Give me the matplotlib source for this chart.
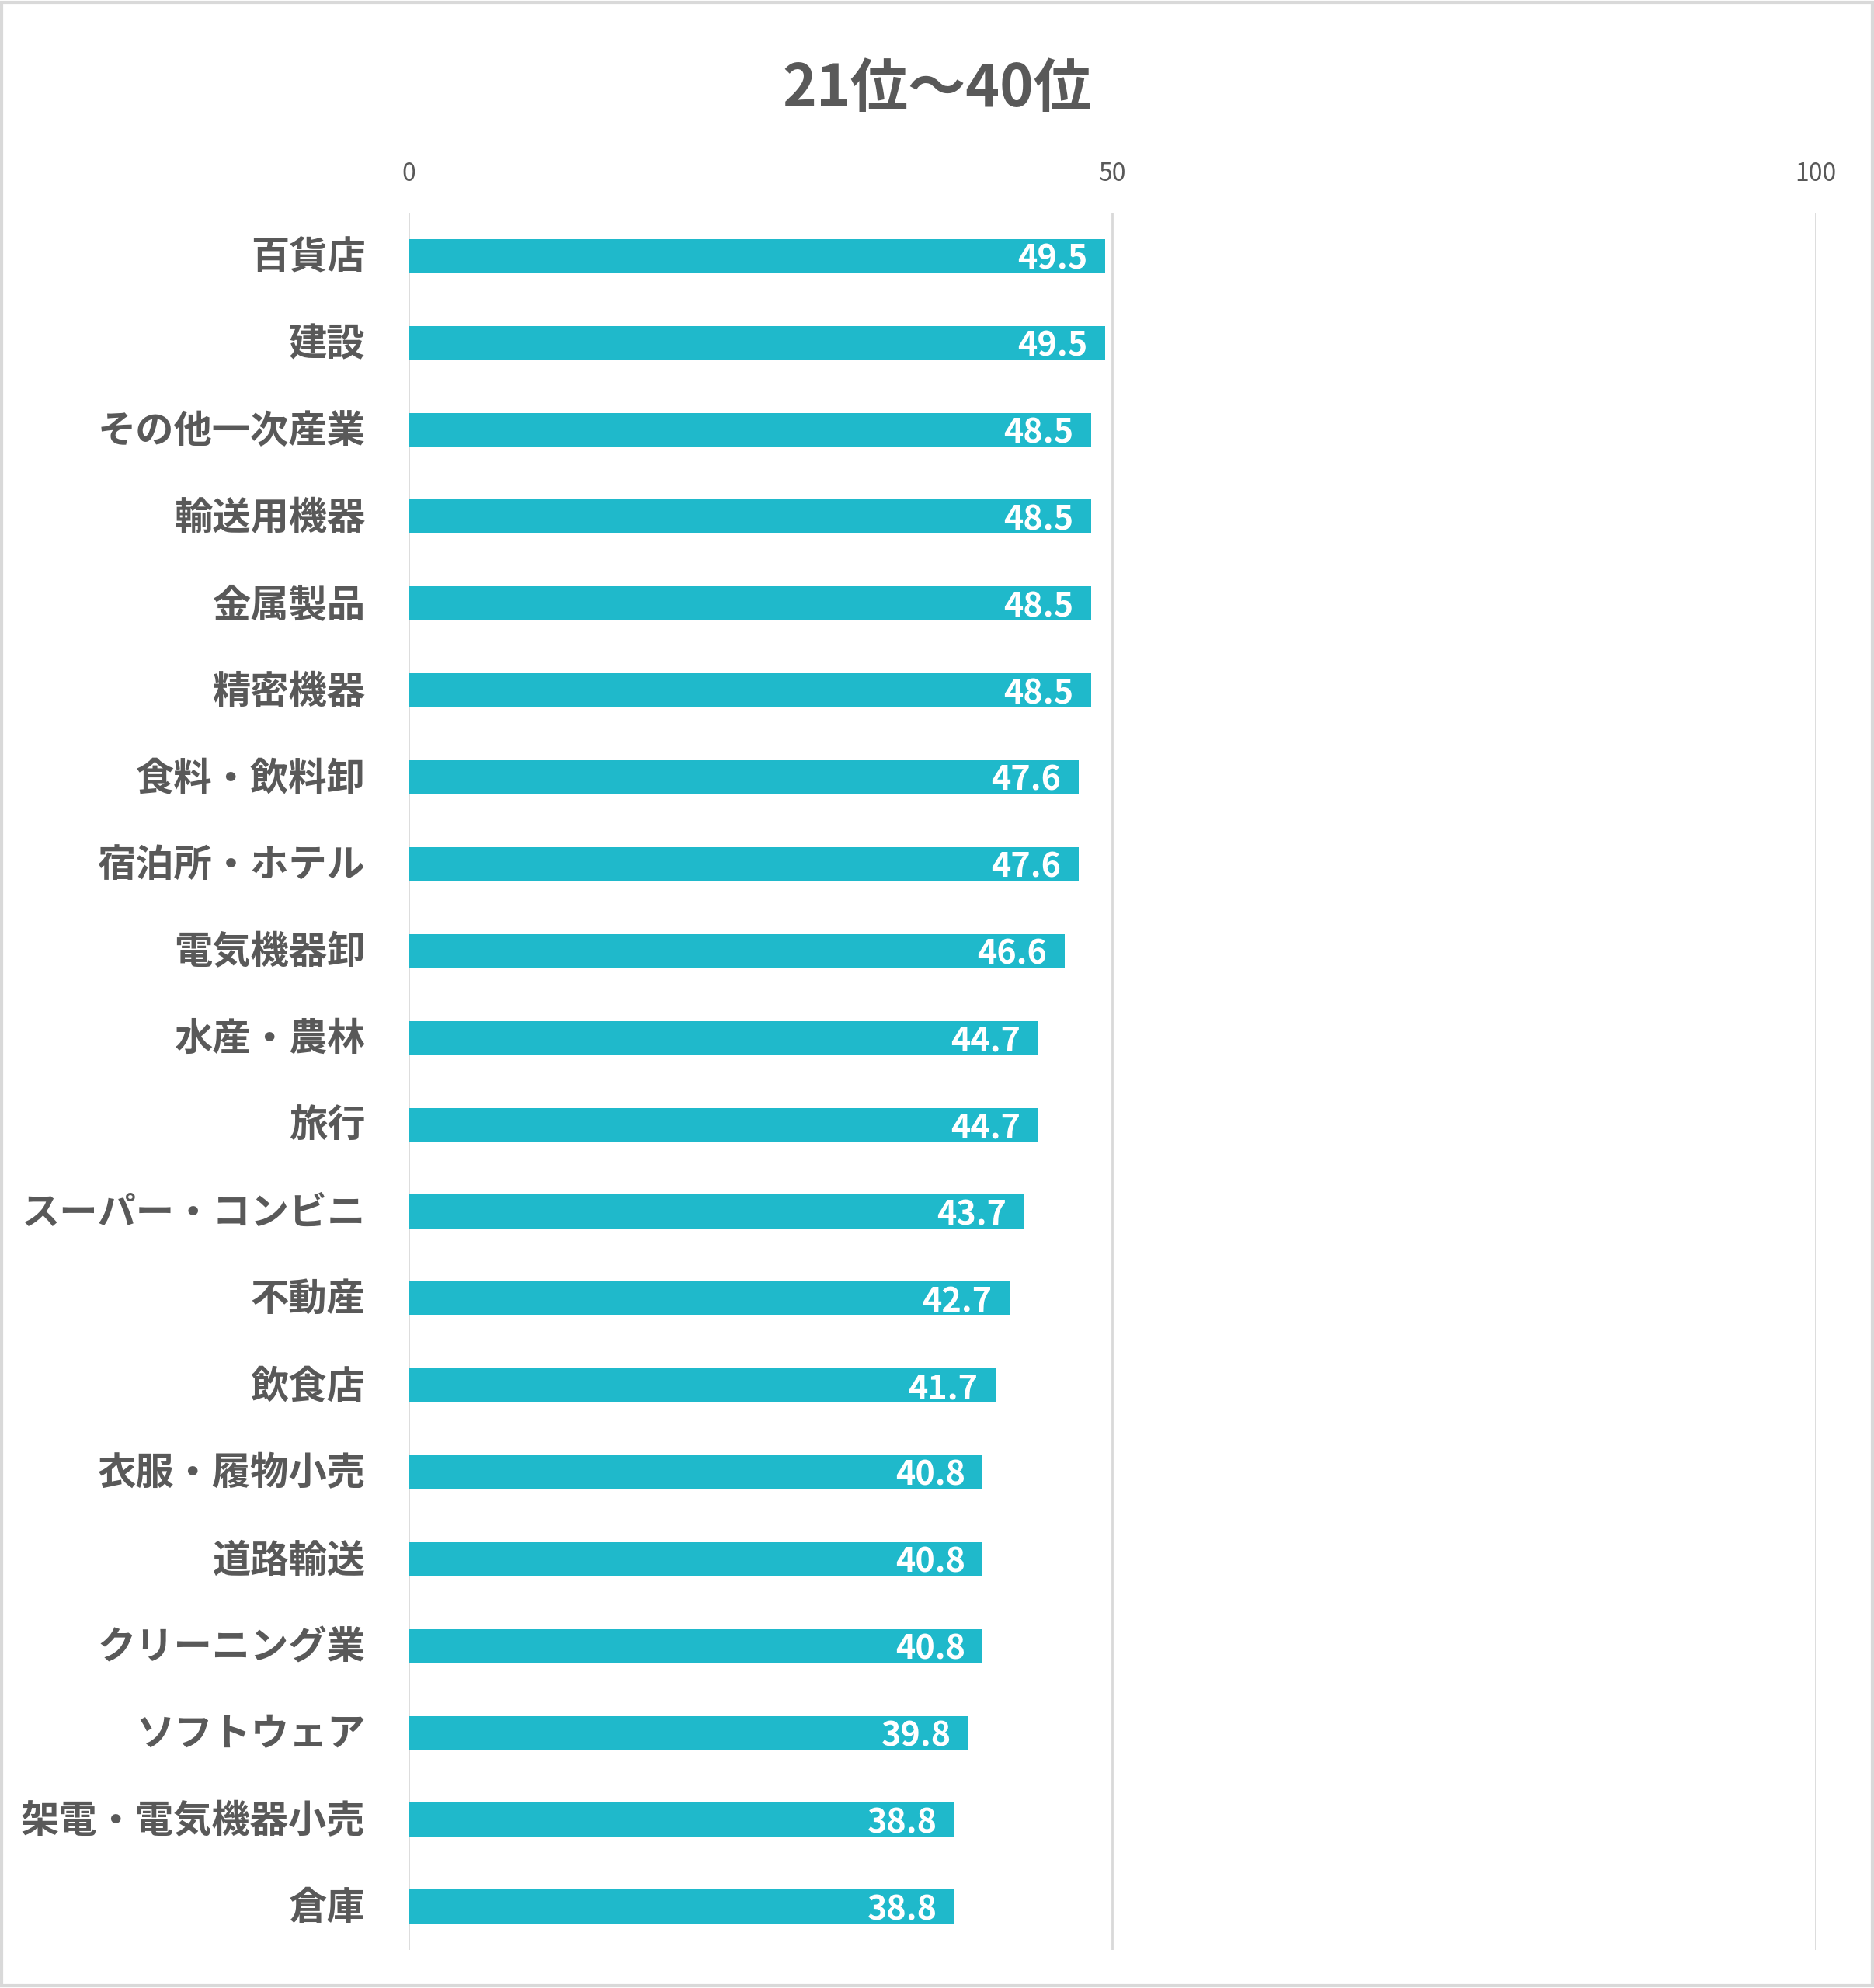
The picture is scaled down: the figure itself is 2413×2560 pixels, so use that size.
import matplotlib
matplotlib.use("Agg")
import matplotlib.pyplot as plt
from matplotlib.patches import Rectangle
from matplotlib.transforms import ScaledTranslation

plt.rcParams['font.family'] = ['Noto Sans CJK JP', 'DejaVu Sans']

# データ
industries = ['百貨店', '建設', 'その他一次産業', '輸送用機器', '金属製品', '精密機器',
              '食料・飲料卸', '宿泊所・ホテル', '電気機器卸', '水産・農林', '旅行',
              'スーパー・コンビニ', '不動産', '飲食店', '衣服・履物小売', '道路輸送',
              'クリーニング業', 'ソフトウェア', '架電・電気機器小売', '倉庫']
scores = [49.5, 49.5, 48.5, 48.5, 48.5, 48.5, 47.6, 47.6, 46.6, 44.7, 44.7,
          43.7, 42.7, 41.7, 40.8, 40.8, 40.8, 39.8, 38.8, 38.8]
xticks = [0, 50, 100]

bar_color = '#1FB9CB'
text_color = '#595959'
grid_color = '#D9D9D9'

fig = plt.figure(figsize=(24.13, 25.6), dpi=100)
ax = fig.add_axes([0.218, 0.0191, 0.751, 0.874])

pos = list(range(len(industries)))
ax.barh(pos, scores, height=0.39, color=bar_color, zorder=3)

for y, v in zip(pos, scores):
    ax.annotate(f'{v:.1f}', xy=(v, y), xytext=(-16, -3), textcoords='offset points',
                ha='right', va='center', color='white', fontsize=31,
                fontweight='bold', zorder=4)

ax.set_ylim(len(industries) - 0.5, -0.5)
ax.set_xlim(0, 100)
ax.set_yticks(pos)
ax.set_yticklabels(industries, fontsize=35.5, fontweight='bold', color=text_color)
ax.set_xticks(xticks)
ax.set_xticklabels([str(t) for t in xticks], fontsize=23, color=text_color)
ax.xaxis.tick_top()
ax.tick_params(axis='x', length=0, pad=24)
ax.tick_params(axis='y', length=0, pad=40)
# ラベルを少し上へ
shift = ScaledTranslation(0, 2 / 72, fig.dpi_scale_trans)
for lbl in ax.get_yticklabels():
    lbl.set_transform(lbl.get_transform() + shift)
ax.grid(axis='x', color=grid_color, linewidth=2, zorder=0)
for s in ax.spines.values():
    s.set_visible(False)

fig.text(0.5, 0.955, '21位～40位', ha='center', va='center', fontsize=53.5,
         fontweight='bold', color=text_color)

# 外枠
fig.patches.append(Rectangle((0.001, 0.001), 0.998, 0.998, transform=fig.transFigure,
                             fill=False, edgecolor=grid_color, linewidth=3))

fig.savefig('out.png', dpi=100)
